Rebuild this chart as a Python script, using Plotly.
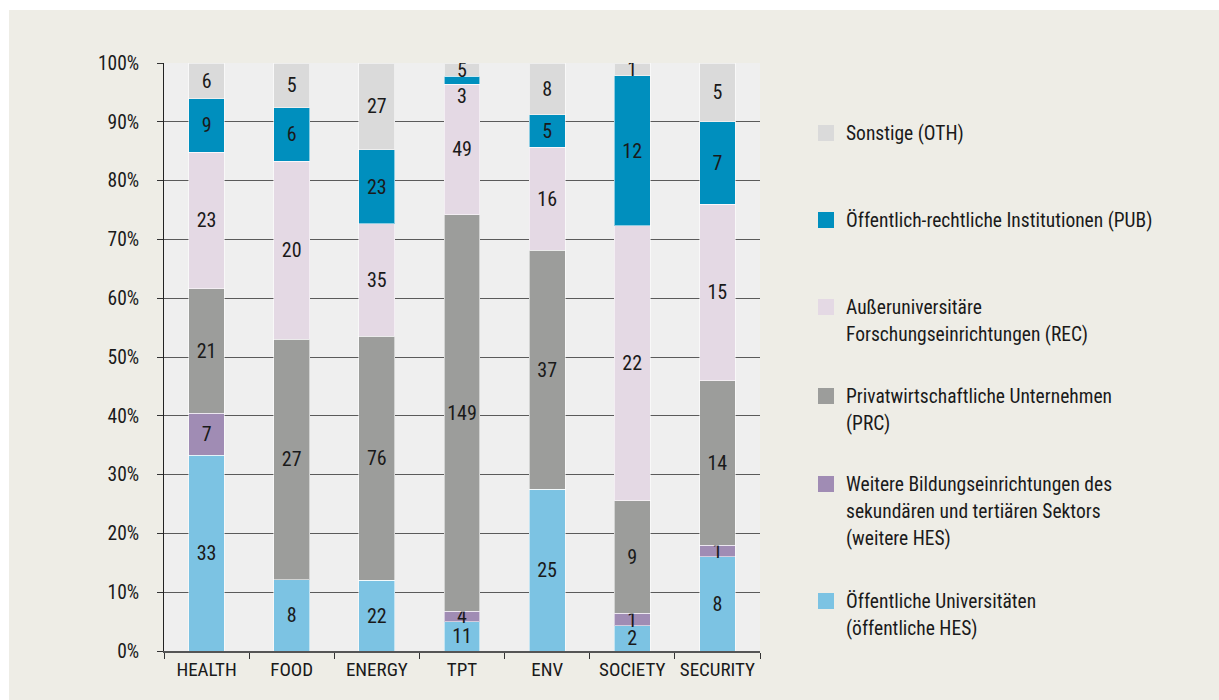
import plotly.graph_objects as go

# Categories (thematic areas) and participant counts per organisation type
categories = ["HEALTH", "FOOD", "ENERGY", "TPT", "ENV", "SOCIETY", "SECURITY"]

series_names = [
    "Öffentliche Universitäten<br>(öffentliche HES)",
    "Weitere Bildungseinrichtungen des<br>sekundären und tertiären Sektors<br>(weitere HES)",
    "Privatwirtschaftliche Unternehmen<br>(PRC)",
    "Außeruniversitäre<br>Forschungseinrichtungen (REC)",
    "Öffentlich-rechtliche Institutionen (PUB)",
    "Sonstige (OTH)",
]

hes_public = [33, 8, 22, 11, 25, 2, 8]
hes_other = [7, 0, 0, 4, 0, 1, 1]
prc = [21, 27, 76, 149, 37, 9, 14]
rec = [23, 20, 35, 49, 16, 22, 15]
pub = [9, 6, 23, 3, 5, 12, 7]
oth = [6, 5, 27, 5, 8, 1, 5]

series_values = [hes_public, hes_other, prc, rec, pub, oth]
series_colors = ["#7cc3e3", "#a08cb4", "#9c9d9b", "#e4d9e4", "#008fbe", "#dadada"]

tick_vals = [0, 10, 20, 30, 40, 50, 60, 70, 80, 90, 100]
tick_text = [f"{v}%" for v in tick_vals]

FONT = "Liberation Sans Narrow, Roboto Condensed, Arial Narrow, sans-serif"
TEXT_COLOR = "#1a1a1a"
LABEL_SIZE = 20

# Segments too thin for their label: the label is hung just below the segment
labels_below = {(4, "TPT")}

W, H = 1219, 700
M_L, M_R, M_T, M_B = 164, 459, 63, 49
PLOT_W = W - M_L - M_R
PLOT_H = H - M_T - M_B


def px_x(x):
    return (x - M_L) / PLOT_W


def px_y(y):
    return (H - M_B - y) / PLOT_H


totals = [sum(col) for col in zip(*series_values)]

fig = go.Figure()
for s, (name, vals, color) in enumerate(zip(series_names, series_values, series_colors)):
    texts = []
    for cat, v in zip(categories, vals):
        texts.append("" if (v == 0 or (s, cat) in labels_below) else str(v))
    fig.add_trace(go.Bar(
        x=categories,
        y=vals,
        name=name,
        marker=dict(color=color, line=dict(color="rgba(255,255,255,0.55)", width=1)),
        text=texts,
        textposition="inside",
        insidetextanchor="middle",
        textangle=0,
        constraintext="none",
        textfont=dict(family=FONT, size=LABEL_SIZE, color=TEXT_COLOR),
        hoverinfo="skip",
    ))

for s, cat in labels_below:
    ci = categories.index(cat)
    base = sum(series_values[k][ci] for k in range(s)) / totals[ci] * 100
    fig.add_annotation(
        x=cat, y=base, xref="x", yref="y",
        text=str(series_values[s][ci]), showarrow=False,
        yanchor="top", yshift=2,
        font=dict(family=FONT, size=LABEL_SIZE, color=TEXT_COLOR),
    )

fig.update_layout(
    width=W,
    height=H,
    barmode="stack",
    barnorm="percent",
    bargap=0.58,
    showlegend=False,
    paper_bgcolor="#eeede6",
    plot_bgcolor="#efefef",
    margin=dict(l=M_L, r=M_R, t=M_T, b=M_B, pad=0),
    font=dict(family=FONT, size=19, color=TEXT_COLOR),
    uniformtext=dict(mode="show", minsize=LABEL_SIZE),
)

fig.update_yaxes(
    range=[0, 100],
    tickvals=tick_vals,
    ticktext=tick_text,
    showgrid=True,
    gridcolor="#5a5a5a",
    gridwidth=1.3,
    ticks="outside",
    ticklen=6,
    tickcolor="#333333",
    showline=True,
    linecolor="#222222",
    linewidth=1,
    zeroline=False,
    ticklabelstandoff=14,
    tickfont=dict(family=FONT, size=19.5, color=TEXT_COLOR),
)

fig.update_xaxes(
    tickson="boundaries",
    ticks="outside",
    ticklen=6,
    tickcolor="#333333",
    showline=True,
    linecolor="#555555",
    linewidth=2,
    showgrid=False,
    tickfont=dict(family=FONT, size=19, color=TEXT_COLOR),
)

# White frame strips along the top and left page edges
fig.add_shape(type="rect", xref="paper", yref="paper", layer="below",
              x0=px_x(0), x1=px_x(W), y0=px_y(10), y1=px_y(0),
              fillcolor="white", line=dict(width=0))
fig.add_shape(type="rect", xref="paper", yref="paper", layer="below",
              x0=px_x(0), x1=px_x(9), y0=px_y(H), y1=px_y(0),
              fillcolor="white", line=dict(width=0))

# Legend on the right: top entry first, swatch aligned with the first text line
legend_rows = [133, 220, 307, 396, 484, 601]
LINE_GAP = 27
for name, color, y0 in zip(reversed(series_names), reversed(series_colors), legend_rows):
    fig.add_shape(type="rect", xref="paper", yref="paper",
                  x0=px_x(818), x1=px_x(834), y0=px_y(y0 + 8), y1=px_y(y0 - 8),
                  fillcolor=color, line=dict(width=0))
    for i, line in enumerate(name.split("<br>")):
        fig.add_annotation(
            xref="paper", yref="paper",
            x=px_x(844), y=px_y(y0 + i * LINE_GAP),
            xanchor="left", yanchor="middle",
            text=line, showarrow=False,
            font=dict(family=FONT, size=19.5, color=TEXT_COLOR),
        )

fig.write_html("out.html")
